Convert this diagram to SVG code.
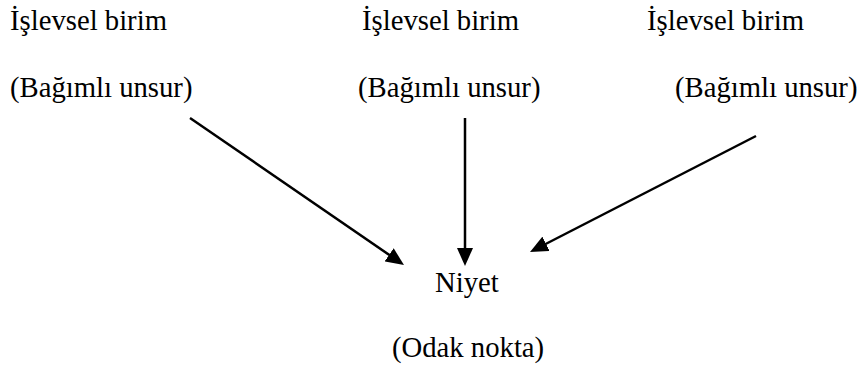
<svg xmlns="http://www.w3.org/2000/svg" width="864" height="367" viewBox="0 0 864 367">
<style>
text{font-family:"Liberation Serif","Times New Roman",serif;font-size:28.7px;fill:#000}
.c{stroke:#000;stroke-width:2.5;fill:none}
</style>
<defs>
<marker id="ah" markerUnits="userSpaceOnUse" markerWidth="18" markerHeight="16" refX="7" refY="8" orient="auto" viewBox="0 0 18 16">
<path d="M0,0 L18,8 L0,16 Z" fill="#000"/>
</marker>
</defs>
<rect width="864" height="367" fill="#fff"/>
<g id="unit-left">
<text x="10" y="30">İşlevsel birim</text>
<text x="10" y="97">(Bağımlı unsur)</text>
</g>
<g id="unit-middle">
<text x="362" y="30">İşlevsel birim</text>
<text x="358" y="97">(Bağımlı unsur)</text>
</g>
<g id="unit-right">
<text x="647" y="30">İşlevsel birim</text>
<text x="675" y="97">(Bağımlı unsur)</text>
</g>
<g id="focus">
<text x="435" y="292">Niyet</text>
<text x="392" y="357">(Odak nokta)</text>
</g>
<g id="connectors">
<path class="c" d="M190,118 L394.9,258.8" marker-end="url(#ah)"/>
<path class="c" d="M465,118 L465,255" marker-end="url(#ah)"/>
<path class="c" d="M756,136 L539.8,247" marker-end="url(#ah)"/>
</g>
</svg>
